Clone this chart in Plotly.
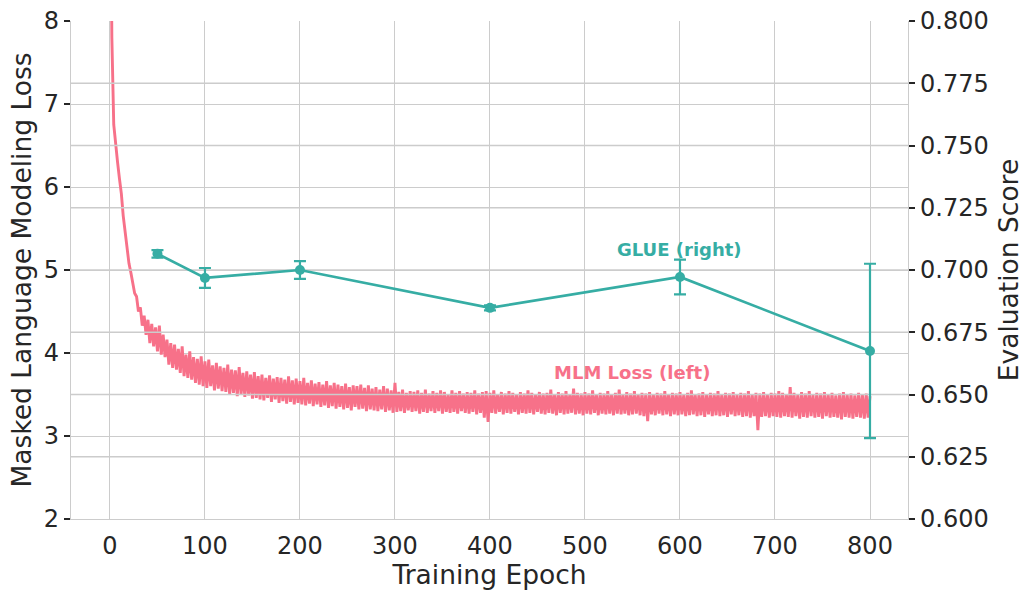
import plotly.graph_objects as go

# ---- data -------------------------------------------------------------
# MLM training loss logged every 2 epochs (epochs 0..800)
loss_epochs = list(range(0, 801, 2))
mlm_loss = [
    11.0, 7.8, 6.75, 6.5, 6.3, 6.1, 5.92, 5.65, 5.45, 5.25,
    5.08, 4.97, 4.86, 4.72, 4.68, 4.50, 4.55, 4.33, 4.45, 4.22,
    4.40, 4.12, 4.35, 4.08, 4.31, 4.02, 4.33, 3.98, 4.22, 3.95,
    4.16, 3.86, 4.12, 3.82, 4.10, 3.80, 4.05, 3.76, 4.08, 3.72,
    3.98, 3.70, 4.02, 3.68, 3.95, 3.64, 3.93, 3.62, 3.96, 3.60,
    3.90, 3.58, 3.92, 3.60, 3.85, 3.55, 3.88, 3.57, 3.84, 3.54,
    3.82, 3.53, 3.86, 3.50, 3.80, 3.52, 3.79, 3.48, 3.83, 3.50,
    3.76, 3.47, 3.78, 3.49, 3.74, 3.45, 3.77, 3.46, 3.72, 3.44,
    3.74, 3.43, 3.70, 3.46, 3.73, 3.41, 3.69, 3.44, 3.71, 3.40,
    3.70, 3.42, 3.68, 3.39, 3.72, 3.41, 3.67, 3.38, 3.69, 3.40,
    3.66, 3.38, 3.70, 3.37, 3.64, 3.39, 3.67, 3.36, 3.63, 3.38,
    3.65, 3.35, 3.62, 3.37, 3.66, 3.34, 3.61, 3.36, 3.64, 3.33,
    3.62, 3.35, 3.60, 3.32, 3.63, 3.34, 3.59, 3.31, 3.61, 3.35,
    3.60, 3.32, 3.62, 3.33, 3.58, 3.30, 3.61, 3.32, 3.57, 3.31,
    3.59, 3.30, 3.56, 3.32, 3.60, 3.29, 3.57, 3.31, 3.55, 3.28,
    3.64, 3.29, 3.53, 3.30, 3.56, 3.28, 3.52, 3.31, 3.54, 3.29,
    3.53, 3.30, 3.55, 3.27, 3.52, 3.29, 3.56, 3.28, 3.51, 3.30,
    3.54, 3.28, 3.52, 3.30, 3.55, 3.27, 3.53, 3.29, 3.50, 3.28,
    3.55, 3.29, 3.52, 3.27, 3.54, 3.30, 3.51, 3.28, 3.53, 3.27,
    3.52, 3.29, 3.55, 3.26, 3.51, 3.28, 3.53, 3.22, 3.54, 3.17,
    3.52, 3.28, 3.55, 3.27, 3.50, 3.29, 3.53, 3.26, 3.51, 3.28,
    3.54, 3.27, 3.52, 3.29, 3.50, 3.26, 3.53, 3.28, 3.51, 3.27,
    3.55, 3.28, 3.52, 3.26, 3.50, 3.29, 3.53, 3.27, 3.51, 3.26,
    3.52, 3.28, 3.56, 3.27, 3.50, 3.25, 3.53, 3.28, 3.51, 3.26,
    3.54, 3.27, 3.50, 3.28, 3.57, 3.26, 3.52, 3.27, 3.51, 3.25,
    3.53, 3.27, 3.51, 3.26, 3.55, 3.28, 3.50, 3.25, 3.52, 3.27,
    3.51, 3.26, 3.54, 3.27, 3.50, 3.25, 3.52, 3.27, 3.56, 3.26,
    3.50, 3.27, 3.53, 3.25, 3.51, 3.26, 3.54, 3.27, 3.50, 3.25,
    3.52, 3.24, 3.51, 3.18, 3.53, 3.26, 3.50, 3.25, 3.52, 3.27,
    3.51, 3.25, 3.54, 3.26, 3.50, 3.24, 3.52, 3.26, 3.51, 3.25,
    3.53, 3.26, 3.50, 3.24, 3.52, 3.25, 3.55, 3.26, 3.50, 3.24,
    3.51, 3.25, 3.53, 3.23, 3.50, 3.26, 3.52, 3.24, 3.51, 3.25,
    3.54, 3.24, 3.50, 3.25, 3.52, 3.23, 3.51, 3.26, 3.53, 3.24,
    3.50, 3.25, 3.52, 3.23, 3.51, 3.24, 3.54, 3.22, 3.50, 3.24,
    3.52, 3.07, 3.51, 3.23, 3.53, 3.24, 3.50, 3.22, 3.52, 3.24,
    3.51, 3.23, 3.54, 3.22, 3.52, 3.24, 3.50, 3.23, 3.59, 3.22,
    3.52, 3.24, 3.50, 3.21, 3.53, 3.23, 3.51, 3.22, 3.54, 3.24,
    3.50, 3.22, 3.52, 3.23, 3.51, 3.21, 3.53, 3.24, 3.50, 3.22,
    3.52, 3.23, 3.49, 3.22, 3.51, 3.20, 3.53, 3.23, 3.50, 3.22,
    3.51, 3.21, 3.49, 3.23, 3.52, 3.22, 3.50, 3.21, 3.51, 3.22,
    3.48,
]

# GLUE evaluation at checkpoints (mean and std)
glue_epochs = [50, 100, 200, 400, 600, 800]
glue_score = [0.7065, 0.6968, 0.7000, 0.6848, 0.6972, 0.6675]
glue_std = [0.0015, 0.0040, 0.0036, 0.0010, 0.0070, 0.0350]

# ---- axes / style -----------------------------------------------------
X_RANGE = [-41, 840]
LOSS_RANGE = [2, 8]
SCORE_RANGE = [0.6, 0.8]
SCORE_STEP = 0.025

PINK = "#f77189"
TEAL = "#36ada4"
TEXT = "#262626"
GRID = "#cccccc"
FONT = "DejaVu Sans"

fig = go.Figure()

fig.add_trace(go.Scatter(
    x=loss_epochs, y=mlm_loss, mode="lines",
    line=dict(color=PINK, width=2.9),
    name="MLM Loss", yaxis="y", showlegend=False,
))

# The right axis sits on top of the left one, so its grid is drawn
# over the loss curve (but under the GLUE series).
n_steps = int(round((SCORE_RANGE[1] - SCORE_RANGE[0]) / SCORE_STEP))
grid_x, grid_y = [], []
for k in range(1, n_steps):
    v = SCORE_RANGE[0] + k * SCORE_STEP
    grid_x += [X_RANGE[0], X_RANGE[1], None]
    grid_y += [v, v, None]
fig.add_trace(go.Scatter(
    x=grid_x, y=grid_y, mode="lines", yaxis="y2",
    line=dict(color=GRID, width=1.4), hoverinfo="skip", showlegend=False,
))

fig.add_trace(go.Scatter(
    x=glue_epochs, y=glue_score, mode="lines+markers",
    line=dict(color=TEAL, width=2.7),
    marker=dict(color=TEAL, size=10),
    error_y=dict(type="data", array=glue_std, color=TEAL, thickness=2.2, width=6),
    name="GLUE", yaxis="y2", showlegend=False,
))

fig.add_annotation(x=550, y=3.77, xref="x", yref="y", text="<b>MLM Loss (left)</b>",
                   showarrow=False, font=dict(family=FONT, size=18, color=PINK))
fig.add_annotation(x=600, y=0.7084, xref="x", yref="y2", text="<b>GLUE (right)</b>",
                   showarrow=False, font=dict(family=FONT, size=18, color=TEAL))

axis_common = dict(
    showgrid=True, gridcolor=GRID, gridwidth=1.4,
    showline=True, linecolor=GRID, linewidth=1.4,
    zeroline=False, automargin=False,
    tickfont=dict(family=FONT, size=24, color=TEXT),
)

fig.update_layout(
    width=1024, height=590,
    margin=dict(l=71, r=116, t=21, b=71),
    paper_bgcolor="white", plot_bgcolor="white",
    font=dict(family=FONT, color=TEXT),
    xaxis=dict(
        **axis_common,
        range=X_RANGE, tickmode="linear", tick0=0, dtick=100,
        ticks="", ticklabelstandoff=5,
        title=dict(text="Training Epoch", font=dict(family=FONT, size=26.5, color=TEXT), standoff=8),
    ),
    yaxis=dict(
        **axis_common,
        range=LOSS_RANGE, tickmode="linear", tick0=2, dtick=1,
        ticks="outside", ticklen=6, tickwidth=1.5, tickcolor=TEXT,
        title=dict(text="Masked Language Modeling Loss", font=dict(family=FONT, size=26.5, color=TEXT), standoff=4),
    ),
    yaxis2=dict(
        **axis_common,
        overlaying="y", side="right",
        range=SCORE_RANGE, tickmode="linear", tick0=SCORE_RANGE[0], dtick=SCORE_STEP, tickformat=".3f",
        ticks="outside", ticklen=6, tickwidth=1.5, tickcolor=TEXT,
        title=dict(text="Evaluation Score", font=dict(family=FONT, size=26.5, color=TEXT), standoff=12),
    ),
)
fig.update_layout(yaxis2_showgrid=False)

fig.write_html("out.html")
